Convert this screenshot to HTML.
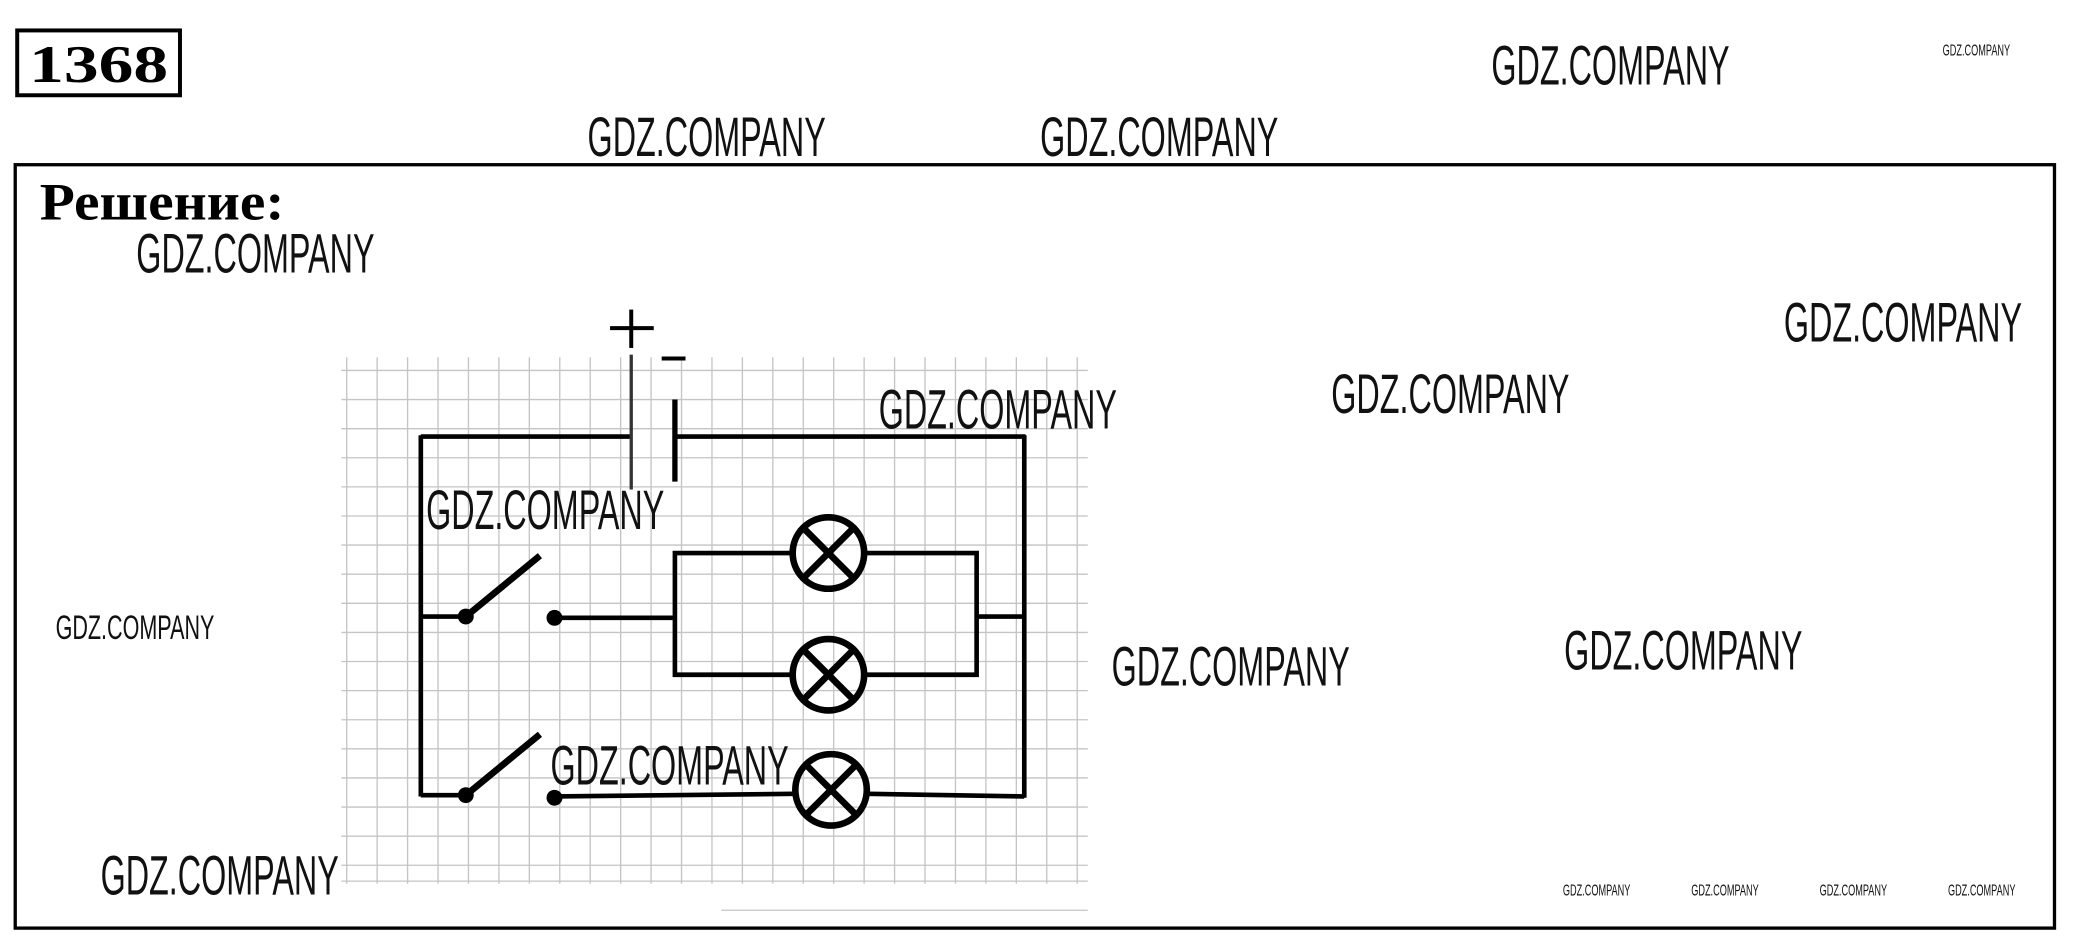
<!DOCTYPE html>
<html><head><meta charset="utf-8"><style>
html,body{margin:0;padding:0;background:#fff;}
svg{display:block}
.w{font-family:"Liberation Sans",sans-serif;fill:#111;font-weight:normal}
</style></head><body>
<svg width="2075" height="942" viewBox="0 0 1568 712" preserveAspectRatio="none" xmlns="http://www.w3.org/2000/svg">
<rect x="0" y="0" width="1568" height="712" fill="#fff"/>
<rect x="13" y="23" width="123" height="49" fill="none" stroke="#000" stroke-width="3"/>
<text x="22" y="62" font-family="Liberation Serif,serif" font-weight="bold" font-size="40" textLength="105" lengthAdjust="spacingAndGlyphs">1368</text>
<rect x="11.5" y="124.5" width="1541" height="577" fill="none" stroke="#000" stroke-width="2.5"/>
<text x="30" y="166" font-family="Liberation Serif,serif" font-weight="bold" font-size="40" textLength="185" lengthAdjust="spacingAndGlyphs">Решение:</text>
<g stroke="#c4c4c4" stroke-width="1">
<line x1="262" y1="270" x2="262" y2="668"/><line x1="285" y1="270" x2="285" y2="668"/><line x1="308" y1="270" x2="308" y2="668"/><line x1="331" y1="270" x2="331" y2="668"/><line x1="354" y1="270" x2="354" y2="668"/><line x1="377" y1="270" x2="377" y2="668"/><line x1="400" y1="270" x2="400" y2="668"/><line x1="423" y1="270" x2="423" y2="668"/><line x1="446" y1="270" x2="446" y2="668"/><line x1="469" y1="270" x2="469" y2="668"/><line x1="492" y1="270" x2="492" y2="668"/><line x1="515" y1="270" x2="515" y2="668"/><line x1="538" y1="270" x2="538" y2="668"/><line x1="561" y1="270" x2="561" y2="668"/><line x1="584" y1="270" x2="584" y2="668"/><line x1="607" y1="270" x2="607" y2="668"/><line x1="630" y1="270" x2="630" y2="668"/><line x1="653" y1="270" x2="653" y2="668"/><line x1="676" y1="270" x2="676" y2="668"/><line x1="699" y1="270" x2="699" y2="668"/><line x1="722" y1="270" x2="722" y2="668"/><line x1="745" y1="270" x2="745" y2="668"/><line x1="768" y1="270" x2="768" y2="668"/><line x1="791" y1="270" x2="791" y2="668"/><line x1="814" y1="270" x2="814" y2="668"/>
<line x1="258" y1="280" x2="822" y2="280"/><line x1="258" y1="302" x2="822" y2="302"/><line x1="258" y1="324" x2="822" y2="324"/><line x1="258" y1="346" x2="822" y2="346"/><line x1="258" y1="368" x2="822" y2="368"/><line x1="258" y1="390" x2="822" y2="390"/><line x1="258" y1="412" x2="822" y2="412"/><line x1="258" y1="434" x2="822" y2="434"/><line x1="258" y1="456" x2="822" y2="456"/><line x1="258" y1="478" x2="822" y2="478"/><line x1="258" y1="500" x2="822" y2="500"/><line x1="258" y1="522" x2="822" y2="522"/><line x1="258" y1="544" x2="822" y2="544"/><line x1="258" y1="566" x2="822" y2="566"/><line x1="258" y1="588" x2="822" y2="588"/><line x1="258" y1="610" x2="822" y2="610"/><line x1="258" y1="632" x2="822" y2="632"/><line x1="258" y1="654" x2="822" y2="654"/><line x1="258" y1="666" x2="822" y2="666"/>
<line x1="545" y1="688" x2="822" y2="688"/>
</g>
<g stroke="#000" stroke-width="3.5" fill="none">
<line x1="318" y1="330" x2="476" y2="330"/><line x1="510" y1="330" x2="775" y2="330"/>
<line x1="318" y1="329" x2="318" y2="602"/><line x1="774" y1="329" x2="774" y2="603"/>
<line x1="318" y1="466" x2="352" y2="466"/><line x1="419" y1="467" x2="510" y2="467"/>
<polyline points="598,418 510,418 510,510 598,510"/>
<polyline points="654,418 738,418 738,510 654,510"/>
<line x1="738" y1="466" x2="774" y2="466"/>
<line x1="318" y1="601" x2="352" y2="601"/><line x1="419" y1="602" x2="600" y2="600"/>
<line x1="656" y1="600" x2="774" y2="602"/>
</g>
<line x1="477" y1="268" x2="477" y2="370" stroke="#333" stroke-width="2.5"/>
<line x1="510" y1="302" x2="510" y2="364" stroke="#000" stroke-width="4"/>
<line x1="461" y1="248" x2="494" y2="248" stroke="#000" stroke-width="3"/><line x1="477" y1="234" x2="477" y2="263" stroke="#000" stroke-width="3"/>
<line x1="500" y1="271" x2="518" y2="271" stroke="#000" stroke-width="3"/>
<g stroke="#000" stroke-width="5" fill="none">
<line x1="352" y1="466" x2="408" y2="420"/><line x1="352" y1="601" x2="408" y2="555"/>
<circle cx="626" cy="418" r="27"/><circle cx="626" cy="510" r="27"/><circle cx="628" cy="597" r="27"/>
<path d="M607,399 L645,437 M645,399 L607,437"/>
<path d="M607,491 L645,529 M645,491 L607,529"/>
<path d="M609,578 L647,616 M647,578 L609,616"/>
</g>
<g fill="#000"><circle cx="352" cy="466" r="6"/><circle cx="419" cy="467" r="6"/><circle cx="352" cy="601" r="6"/><circle cx="419" cy="603" r="6"/></g>
<g class="w" font-size="42">
<text x="1127" y="64" textLength="180" lengthAdjust="spacingAndGlyphs">GDZ.COMPANY</text>
<text x="444" y="118" textLength="180" lengthAdjust="spacingAndGlyphs">GDZ.COMPANY</text>
<text x="786" y="118" textLength="180" lengthAdjust="spacingAndGlyphs">GDZ.COMPANY</text>
<text x="103" y="206" textLength="180" lengthAdjust="spacingAndGlyphs">GDZ.COMPANY</text>
<text x="1348" y="258" textLength="180" lengthAdjust="spacingAndGlyphs">GDZ.COMPANY</text>
<text x="1006" y="312" textLength="180" lengthAdjust="spacingAndGlyphs">GDZ.COMPANY</text>
<text x="664" y="324" textLength="180" lengthAdjust="spacingAndGlyphs">GDZ.COMPANY</text>
<text x="322" y="400" textLength="180" lengthAdjust="spacingAndGlyphs">GDZ.COMPANY</text>
<text x="840" y="518" textLength="180" lengthAdjust="spacingAndGlyphs">GDZ.COMPANY</text>
<text x="1182" y="506" textLength="180" lengthAdjust="spacingAndGlyphs">GDZ.COMPANY</text>
<text x="416" y="593" textLength="180" lengthAdjust="spacingAndGlyphs">GDZ.COMPANY</text>
<text x="76" y="676" textLength="180" lengthAdjust="spacingAndGlyphs">GDZ.COMPANY</text>
</g>
<text class="w" x="42" y="483" font-size="26" textLength="120" lengthAdjust="spacingAndGlyphs">GDZ.COMPANY</text>
<g class="w" font-size="12">
<text x="1468" y="42" textLength="51" lengthAdjust="spacingAndGlyphs">GDZ.COMPANY</text>
<text x="1181" y="677" textLength="51" lengthAdjust="spacingAndGlyphs">GDZ.COMPANY</text>
<text x="1278" y="677" textLength="51" lengthAdjust="spacingAndGlyphs">GDZ.COMPANY</text>
<text x="1375" y="677" textLength="51" lengthAdjust="spacingAndGlyphs">GDZ.COMPANY</text>
<text x="1472" y="677" textLength="51" lengthAdjust="spacingAndGlyphs">GDZ.COMPANY</text>
</g>
</svg>
</body></html>
